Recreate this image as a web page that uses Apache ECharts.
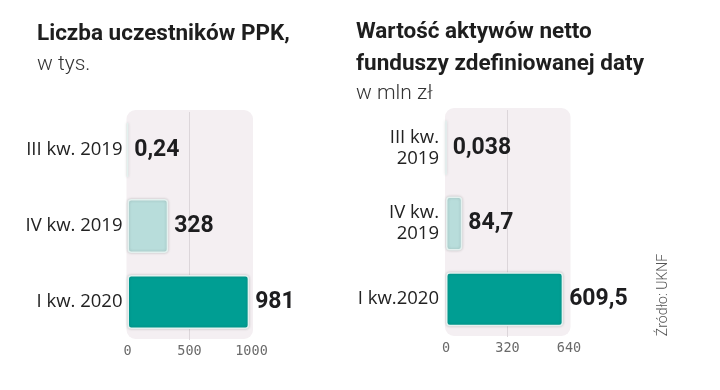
<!DOCTYPE html>
<html><head><meta charset="utf-8">
<script src="https://cdn.jsdelivr.net/npm/echarts@6/dist/echarts.min.js"></script>
<style>html,body{margin:0;padding:0;background:#fff}#c{width:720px;height:390px}</style>
</head><body><div id="c"></div>
<script>
// Data
const leftCategories = ['III kw. 2019', 'IV kw. 2019', 'I kw. 2020'];
const leftValues = [0.24, 328, 981];
const leftTicks = [0, 500, 1000];
const rightCategories = ['III kw.\n2019', 'IV kw.\n2019', 'I kw.2020'];
const rightValues = [0.038, 84.7, 609.5];
const rightTicks = [0, 320, 640];
const barColors = ['#ece4ea', '#b8dddb', '#009e93'];

const G0 = {left: 127.5, top: 112, width: 124, height: 228};
const G1 = {left: 446, top: 110, width: 123, height: 227};

const chart = echarts.init(document.getElementById('c'), null, {renderer: 'canvas'});
const fmt = v => String(v).replace('.', ',');
const valueLabel = {
  show: true, position: 'right', distance: 6,
  fontFamily: 'Roboto, "Liberation Sans", sans-serif',
  fontWeight: 'bold', fontSize: 23, color: '#1d1d1f',
  formatter: p => fmt(p.value)
};
function barData(vals) {
  return vals.map((v, i) => ({value: v, itemStyle: {color: barColors[i]}}));
}
const itemStyle = {borderRadius: 3, borderColor: '#e4f1ef', borderWidth: 1.5,
  shadowBlur: 3, shadowColor: 'rgba(0,0,0,0.18)'};
function xAx(idx, ticks) {
  return {
    type: 'value', gridIndex: idx, min: ticks[0], max: ticks[ticks.length - 1],
    interval: ticks[1] - ticks[0],
    axisLine: {show: false}, axisTick: {show: false},
    axisLabel: {margin: 4, fontFamily: '"DejaVu Sans Mono",monospace', fontSize: 13.5, color: '#6a6a6a',
      formatter: v => String(v)},
    splitLine: {show: true, lineStyle: {color: ['rgba(0,0,0,0)', '#dcd6da', 'rgba(0,0,0,0)'], width: 1}}
  };
}
function yAx(idx, cats, margin, lh) {
  return {
    type: 'category', gridIndex: idx, data: cats, inverse: true,
    axisLine: {show: false}, axisTick: {show: false}, splitLine: {show: false},
    axisLabel: {margin: margin, fontFamily: '"Open Sans","Noto Sans",sans-serif', fontSize: 18.5,
      color: '#222', lineHeight: lh, align: 'right'}
  };
}
function bgRect(g) {
  return {type: 'rect', z: -10, silent: true,
    shape: {x: g.left - 1, y: g.top - 2, width: g.width + 2.5, height: g.height + 1, r: 9},
    style: {fill: '#f4eff2'}};
}
const titleFont = (w, s) => w + ' ' + s + 'px Roboto, "Liberation Sans", sans-serif';

chart.setOption({
  animation: false,
  grid: [
    Object.assign({containLabel: false}, G0),
    Object.assign({containLabel: false}, G1)
  ],
  xAxis: [xAx(0, leftTicks), xAx(1, rightTicks)],
  yAxis: [yAx(0, leftCategories, 5, 22), yAx(1, rightCategories, 7, 21)],
  series: [
    {type: 'bar', xAxisIndex: 0, yAxisIndex: 0, barWidth: 54, data: barData(leftValues),
      itemStyle: itemStyle, label: valueLabel},
    {type: 'bar', xAxisIndex: 1, yAxisIndex: 1, barWidth: 54, data: barData(rightValues),
      itemStyle: itemStyle, label: valueLabel}
  ],
  graphic: [
    bgRect(G0), bgRect(G1),
    {type: 'text', x: 37, y: 34.5, style: {text: 'Liczba uczestników PPK,', font: titleFont('bold', 22.5), fill: '#1e1e1e', verticalAlign: 'middle'}},
    {type: 'text', x: 37, y: 65, style: {text: 'w tys.', font: titleFont('300', 21), fill: '#333', verticalAlign: 'middle'}},
    {type: 'text', x: 356, y: 32.5, style: {text: 'Wartość aktywów netto', font: titleFont('bold', 22.5), fill: '#1e1e1e', verticalAlign: 'middle'}},
    {type: 'text', x: 356, y: 64, style: {text: 'funduszy zdefiniowanej daty', font: titleFont('bold', 22.5), fill: '#1e1e1e', verticalAlign: 'middle'}},
    {type: 'text', x: 356, y: 93.5, style: {text: 'w mln zł', font: titleFont('300', 21), fill: '#333', verticalAlign: 'middle'}},
    {type: 'text', x: 663, y: 295, rotation: Math.PI / 2, style: {text: 'Źródło: UKNF', font: titleFont('300', 14), fill: '#555', align: 'center', verticalAlign: 'middle'}}
  ]
});
</script></body></html>
